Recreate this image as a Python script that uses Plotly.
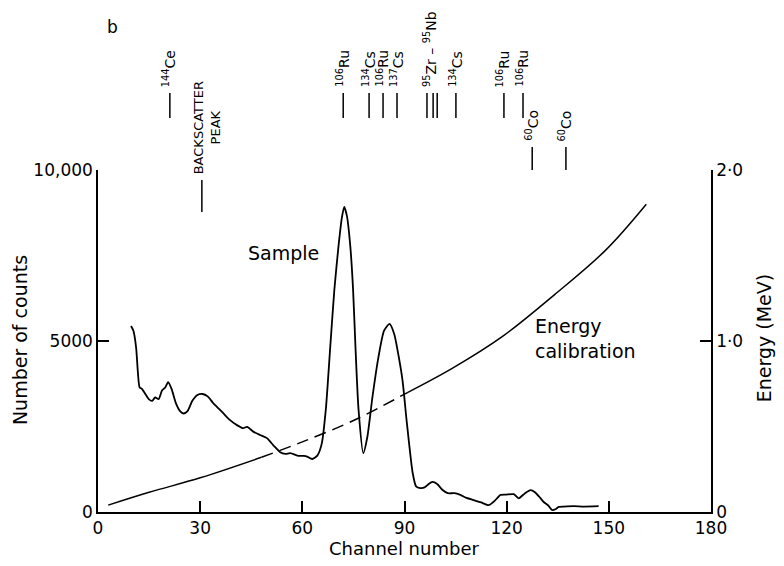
import plotly.graph_objects as go

# ---------------- data ----------------
sample_ch = [9.7, 10.4, 11.2, 11.7, 12.2, 12.9, 13.9, 14.9, 15.9, 16.8, 17.8, 18.8, 19.8, 20.6, 21.6, 22.8,
             24.1, 25.1, 26.3, 27.7, 29.2, 30.7, 32.2, 33.7, 35.0, 36.7, 38.6, 40.8, 42.6, 43.8, 45.6, 47.6,
             49.6, 51.5, 53.5, 55.0, 56.5, 58.5, 60.4, 61.4, 62.9, 64.4, 65.7, 66.9, 68.2, 69.4, 70.6, 71.6,
             72.3, 73.1, 74.1, 74.9, 75.6, 76.5, 77.9, 79.1, 80.6, 82.3, 84.0, 85.6, 87.0, 88.2, 89.4, 90.7,
             92.4, 93.4, 94.6, 95.9, 97.1, 98.2, 99.6, 101.1, 102.7, 104.6, 106.4, 108.0, 110.3, 112.5, 114.7,
             116.4, 118.2, 119.9, 122.1, 123.5, 125.4, 127.0, 128.3, 129.8, 130.8, 132.3, 133.3, 134.3, 135.3,
             136.8, 139.7, 142.7, 147.0]
sample_counts = [5440, 5300, 4800, 4100, 3650, 3600, 3450, 3300, 3250, 3350, 3300, 3550, 3650, 3800, 3600,
                 3200, 2950, 2880, 2950, 3250, 3420, 3450, 3380, 3200, 3070, 2900, 2700, 2540, 2450, 2490,
                 2350, 2250, 2160, 1950, 1750, 1700, 1720, 1650, 1640, 1620, 1550, 1650, 2000, 3000, 4830,
                 6500, 7750, 8600, 8920, 8650, 7750, 6500, 4830, 3000, 1720, 2200, 3370, 4500, 5300, 5500,
                 5200, 4600, 3860, 2600, 1140, 750, 700, 720, 820, 880, 820, 650, 550, 550, 500, 420, 350,
                 280, 200, 320, 500, 510, 520, 400, 550, 640, 580, 420, 300, 180, 60, 80, 150, 160, 170,
                 160, 170]

energy_ch = [3, 15, 30, 48, 60, 75, 91, 104, 119, 134, 149, 161]
energy_mev = [0.04, 0.115, 0.20, 0.32, 0.41, 0.535, 0.70, 0.84, 1.03, 1.27, 1.53, 1.80]

x_tick_vals = [0, 30, 60, 90, 120, 150, 180]
x_tick_text = ["0", "30", "60", "90", "120", "150", "180"]
y_tick_vals = [0, 5000, 10000]
y_tick_text = ["0", "5000", "10,000"]
e_tick_vals = [0, 1, 2]
e_tick_text = ["0", "1·0", "2·0"]

iso_labels = ["<sup>144</sup>Ce", "BACKSCATTER<br>PEAK", "<sup>106</sup>Ru", "<sup>134</sup>Cs",
              "<sup>106</sup>Ru", "<sup>137</sup>Cs", "<sup>95</sup>Zr – <sup>95</sup>Nb", "<sup>134</sup>Cs",
              "<sup>106</sup>Ru", "<sup>106</sup>Ru", "<sup>60</sup>Co", "<sup>60</sup>Co"]
iso_label_ch = [21.1, 32.0, 72.0, 79.6, 83.7, 87.8, 97.5, 105.1, 119.2, 124.8, 127.5, 137.4]
iso_line_ch = [[21.1], [30.5], [72.0], [79.6], [83.7], [87.8], [96.6, 98.4, 99.6], [105.1],
               [119.2], [124.8], [127.5], [137.4]]
iso_tier = ["high", "low", "high", "high", "high", "high", "high", "high", "high", "high", "mid", "mid"]

# ---------------- figure ----------------
FONT = "DejaVu Sans, Liberation Sans, sans-serif"
tiers = {"high": (1.152, 1.225), "mid": (1.0, 1.067), "low": (0.877, 0.971)}

fig = go.Figure()
fig.add_trace(go.Scatter(x=sample_ch, y=sample_counts, mode="lines",
                         line=dict(color="black", width=1.8, shape="spline", smoothing=0.6),
                         showlegend=False, hoverinfo="skip"))

i1 = energy_ch.index(48)
i2 = energy_ch.index(91)
segs = [(0, i1 + 1, "solid"), (i1, i2 + 1, "12px,7px"), (i2, len(energy_ch), "solid")]
for a, b, d in segs:
    fig.add_trace(go.Scatter(x=energy_ch[a:b], y=energy_mev[a:b], mode="lines", yaxis="y2",
                             line=dict(color="black", width=1.5, shape="spline", dash=d),
                             showlegend=False, hoverinfo="skip"))

shapes = []
annotations = []
for lab, lch, lines, tier in zip(iso_labels, iso_label_ch, iso_line_ch, iso_tier):
    y0, y1 = tiers[tier]
    for c in lines:
        shapes.append(dict(type="line", xref="x", yref="paper", x0=c, x1=c, y0=y0, y1=y1,
                           line=dict(color="black", width=1.5)))
    annotations.append(dict(text=lab, x=lch, y=y1 + 0.012, xref="x", yref="paper",
                            textangle=-90, xanchor="center", yanchor="bottom", showarrow=False,
                            font=dict(family=FONT, size=13 if tier == "low" else 14, color="black")))

def txt(text, x, y, xref="paper", yref="paper", size=19, angle=0, xanchor="center", align="center"):
    return dict(text=text, x=x, y=y, xref=xref, yref=yref, showarrow=False, textangle=angle,
                xanchor=xanchor, yanchor="middle", align=align,
                font=dict(family=FONT, size=size, color="black"))

annotations += [
    txt("b", 0.023, 1.418, size=17),
    txt("Sample", 54.6, 7570, xref="x", yref="y"),
    txt("Energy<br>calibration", 127.8, 5060, xref="x", yref="y", xanchor="left", align="left"),
    txt("Number of counts", -0.127, 0.503, angle=-90),
    txt("Energy (MeV)", 1.087, 0.509, angle=-90),
    txt("Channel number", 0.499, -0.106, size=18),
]

axis_common = dict(showgrid=False, zeroline=False, showline=True, linecolor="black", linewidth=1.5,
                   ticks="inside", ticklen=11, tickwidth=1.5, tickcolor="black",
                   tickfont=dict(family=FONT, size=17, color="black"))

fig.update_layout(
    width=768, height=550,
    margin=dict(l=90, r=65, t=162, b=46),
    paper_bgcolor="white", plot_bgcolor="white",
    xaxis=dict(range=[0, 180], tickvals=x_tick_vals, ticktext=x_tick_text, ticklabelstandoff=0,
               **axis_common),
    yaxis=dict(range=[0, 10000], tickvals=y_tick_vals, ticktext=y_tick_text, ticklabelstandoff=0,
               **axis_common),
    yaxis2=dict(range=[0, 2], tickvals=e_tick_vals, ticktext=e_tick_text, overlaying="y",
                side="right", **axis_common),
    shapes=shapes, annotations=annotations,
)

fig.write_html("out.html")
